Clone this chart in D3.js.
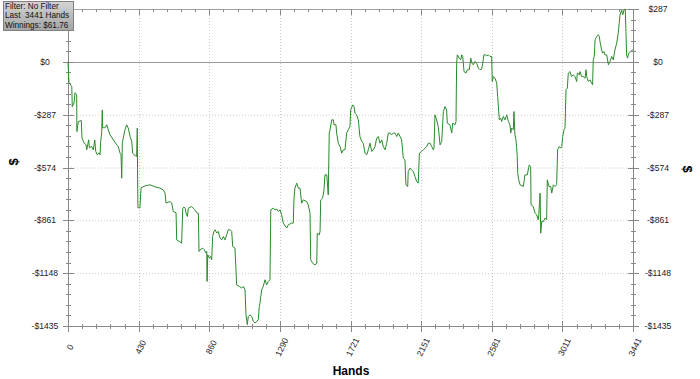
<!DOCTYPE html>
<html>
<head>
<meta charset="utf-8">
<script src="https://cdn.jsdelivr.net/npm/d3@7"></script>
<style>
  body { margin: 0; background: #fff; }
  text { font-family: "Liberation Sans", Arial, sans-serif; }
</style>
</head>
<body>
<div id="chart"></div>
<script>
// running winnings (hand number -> $)
const hands = [
  0,6,23,26,37,43,53,54,63,81,
  85,97,110,114,126,130,144,154,163,169,
  178,189,195,199,205,209,211,225,236,245,
  256,276,297,306,317,323,327,331,337,347,
  357,367,378,388,394,402,418,422,424,426,
  438,445,469,499,530,560,580,591,597,621,
  632,641,658,662,678,692,699,706,714,719,
  727,733,753,773,787,794,798,804,820,830,
  840,845,847,851,861,869,875,881,889,895,
  906,915,926,936,946,956,967,976,987,997,
  1003,1017,1027,1043,1058,1068,1078,1084,1092,1098,
  1108,1119,1129,1139,1149,1159,1165,1169,1174,1180,
  1189,1200,1210,1220,1230,1235,1250,1261,1271,1281,
  1291,1301,1311,1332,1342,1362,1372,1376,1382,1393,
  1403,1413,1423,1433,1454,1463,1474,1478,1490,1504,
  1515,1518,1530,1535,1539,1551,1559,1565,1576,1585,
  1591,1596,1606,1616,1620,1632,1636,1646,1657,1667,
  1677,1687,1697,1707,1717,1722,1734,1742,1748,1758,
  1768,1778,1789,1798,1809,1819,1829,1839,1850,1859,
  1870,1880,1890,1900,1911,1920,1931,1941,1951,1961,
  1971,1981,1992,2002,2012,2022,2032,2042,2052,2058,
  2069,2072,2083,2093,2103,2113,2124,2133,2140,2154,
  2164,2185,2194,2205,2215,2225,2229,2235,2245,2255,
  2266,2276,2286,2296,2306,2310,2326,2337,2343,2357,
  2363,2367,2371,2383,2392,2398,2404,2412,2424,2432,
  2444,2453,2460,2468,2479,2489,2499,2509,2519,2526,
  2533,2541,2550,2560,2570,2580,2584,2590,2601,2611,
  2617,2621,2627,2635,2641,2651,2661,2672,2682,2692,
  2696,2702,2712,2716,2722,2728,2732,2736,2739,2745,
  2753,2773,2783,2797,2809,2818,2820,2834,2844,2854,
  2864,2868,2875,2879,2885,2895,2905,2915,2919,2929,
  2940,2946,2956,2966,2976,2982,2992,3001,3007,3013,
  3021,3027,3033,3041,3047,3057,3067,3077,3088,3098,
  3102,3114,3118,3128,3138,3149,3155,3159,3169,3179,
  3189,3195,3199,3205,3210,3220,3230,3236,3240,3250,
  3256,3264,3270,3281,3291,3301,3311,3321,3331,3342,
  3351,3357,3362,3372,3378,3382,3386,3394,3398,3402,
  3408,3412,3418,3427,3439,3441
];
const winnings = [
  0,-112,-134,-243,-223,-168,-179,-379,-324,-319,
  -413,-440,-451,-478,-424,-467,-460,-478,-424,-487,
  -505,-494,-505,-433,-386,-261,-358,-358,-342,-369,
  -396,-424,-451,-460,-496,-505,-632,-440,-413,-369,
  -342,-360,-406,-433,-496,-505,-514,-360,-641,-793,
  -793,-684,-674,-668,-679,-686,-695,-713,-767,-759,
  -767,-813,-820,-967,-976,-985,-795,-789,-795,-822,
  -840,-795,-786,-804,-822,-822,-1030,-1021,-1012,-1021,
  -1039,-1030,-1193,-1048,-1066,-1057,-1075,-949,-921,-912,
  -930,-921,-957,-967,-949,-967,-939,-912,-912,-921,
  -1003,-1012,-1211,-1220,-1229,-1220,-1238,-1374,-1428,-1383,
  -1374,-1383,-1410,-1419,-1410,-1401,-1329,-1311,-1275,-1238,
  -1220,-1184,-1211,-1193,-1184,-804,-795,-804,-800,-813,
  -804,-831,-876,-903,-885,-876,-876,-750,-686,-659,
  -686,-686,-768,-750,-759,-777,-822,-1075,-1094,-1103,
  -1094,-931,-940,-922,-750,-740,-695,-614,-614,-723,
  -387,-369,-315,-315,-342,-342,-387,-442,-460,-496,
  -478,-478,-387,-369,-351,-261,-234,-243,-279,-288,
  -315,-406,-433,-442,-496,-505,-478,-442,-487,-478,
  -460,-414,-406,-442,-424,-460,-478,-442,-387,-387,
  -397,-387,-387,-406,-387,-406,-424,-523,-532,-668,
  -677,-596,-577,-587,-596,-623,-650,-659,-496,-487,
  -478,-460,-442,-442,-460,-478,-469,-288,-315,-351,
  -451,-433,-270,-243,-261,-333,-342,-387,-333,-342,
  -324,-7,38,20,11,38,29,-53,-61,-43,
  -43,20,-7,-16,2,-7,-34,-43,-40,-7,
  38,38,33,38,29,29,-107,-80,-89,-116,
  -189,-243,-315,-306,-324,-297,-315,-288,-324,-342,
  -387,-360,-369,-270,-397,-424,-460,-514,-605,-641,
  -668,-677,-614,-614,-560,-569,-777,-786,-822,-831,
  -858,-822,-713,-931,-868,-868,-849,-858,-641,-677,
  -677,-713,-668,-677,-668,-478,-460,-469,-460,-406,
  -369,-360,-152,-143,-61,-53,-80,-71,-80,-107,
  -61,-71,-53,-80,-80,-89,-43,-80,-107,-98,
  -116,-125,11,29,120,137,147,137,110,65,
  47,56,38,38,-16,2,29,11,65,102,
  156,210,255,282,255,265,282,286,165,38,
  20,38,51,56,65,61.76
];

const xTicks = [0, 430, 860, 1290, 1721, 2151, 2581, 3011, 3441];
const yTicks = [287, 0, -287, -574, -861, -1148, -1435];
const legendLines = ['Filter: No Filter', 'Last  3441 Hands', 'Winnings: $61.76'];

class WinningsGraph {
    constructor(){
        this.margin = { top: 9, right: 67, bottom: 53, left: 68 };
        this.width = 700 - this.margin.left - this.margin.right;
        this.height = 379 - this.margin.top - this.margin.bottom;
    }

    fmt(v){
        return (v < 0 ? '-$' : '$') + Math.abs(v);
    }

    drawPlot(){
        let m = this.margin;
        let svg = d3.select('#chart').append('svg')
            .attr('width', 700).attr('height', 379);

        let x = d3.scaleLinear().domain([0, 3441]).range([m.left, m.left + this.width]);
        let y = d3.scaleLinear().domain([-1435, 287]).range([m.top + this.height, m.top]);
        let x0 = x.range()[0], x1 = x.range()[1];
        let yTop = y.range()[1], yBot = y.range()[0];

        // dotted grid
        svg.append('g').selectAll('line')
            .data(yTicks.filter(d => d != 0 && d != 287 && d != -1435))
            .join('line')
            .attr('x1', x0).attr('x2', x1)
            .attr('y1', d => y(d) + 0.5).attr('y2', d => y(d) + 0.5)
            .attr('stroke', '#c8c8c8').attr('stroke-dasharray', '1,2');
        svg.append('g').selectAll('line')
            .data(xTicks.slice(1, -1))
            .join('line')
            .attr('x1', d => Math.round(x(d)) + 0.5).attr('x2', d => Math.round(x(d)) + 0.5)
            .attr('y1', yTop).attr('y2', yBot)
            .attr('stroke', '#c8c8c8').attr('stroke-dasharray', '1,2');

        // zero line + frame top
        svg.append('line')
            .attr('x1', x0).attr('x2', x1)
            .attr('y1', Math.round(y(0)) + 0.5).attr('y2', Math.round(y(0)) + 0.5)
            .attr('stroke', '#9a9a9a');
        svg.append('line')
            .attr('x1', x0).attr('x2', x1)
            .attr('y1', yTop + 0.5).attr('y2', yTop + 0.5)
            .attr('stroke', '#a0a0a0');

        // minor ticks
        let yMinor = d3.range(0, 31).map(i => -1435 + i * 57.4);
        let xMinor = d3.range(0, 41).map(i => i * 3441 / 40);

        let axisCol = '#888';
        [x0, x1].forEach(ax => {
            svg.append('line').attr('x1', ax + 0.5).attr('x2', ax + 0.5)
                .attr('y1', yTop).attr('y2', yBot + 4).attr('stroke', axisCol);
            svg.append('g').selectAll('line').data(yMinor).join('line')
                .attr('x1', ax - 2).attr('x2', ax + 3)
                .attr('y1', d => Math.round(y(d)) + 0.5).attr('y2', d => Math.round(y(d)) + 0.5)
                .attr('stroke', axisCol);
            svg.append('g').selectAll('line').data(yTicks).join('line')
                .attr('x1', ax - 5).attr('x2', ax + 6)
                .attr('y1', d => Math.round(y(d)) + 0.5).attr('y2', d => Math.round(y(d)) + 0.5)
                .attr('stroke', axisCol);
        });

        // bottom axis
        svg.append('line').attr('x1', x0 - 5).attr('x2', x1 + 5)
            .attr('y1', yBot + 0.5).attr('y2', yBot + 0.5).attr('stroke', axisCol);
        svg.append('g').selectAll('line').data(xMinor).join('line')
            .attr('x1', d => Math.round(x(d)) + 0.5).attr('x2', d => Math.round(x(d)) + 0.5)
            .attr('y1', yBot - 2).attr('y2', yBot + 3).attr('stroke', axisCol);
        svg.append('g').selectAll('line').data(xTicks).join('line')
            .attr('x1', d => Math.round(x(d)) + 0.5).attr('x2', d => Math.round(x(d)) + 0.5)
            .attr('y1', yBot - 5).attr('y2', yBot + 6).attr('stroke', axisCol);

        // top axis ticks
        svg.append('g').selectAll('line').data(xMinor).join('line')
            .attr('x1', d => Math.round(x(d)) + 0.5).attr('x2', d => Math.round(x(d)) + 0.5)
            .attr('y1', yTop).attr('y2', yTop + 3).attr('stroke', axisCol);
        svg.append('g').selectAll('line').data(xTicks).join('line')
            .attr('x1', d => Math.round(x(d)) + 0.5).attr('x2', d => Math.round(x(d)) + 0.5)
            .attr('y1', yTop).attr('y2', yTop + 6).attr('stroke', axisCol);

        // winnings line
        let pts = hands.map((h, i) => [h, winnings[i]]);
        let line = d3.line().x(d => x(d[0])).y(d => y(d[1]));
        svg.append('path').datum(pts)
            .attr('d', line)
            .attr('fill', 'none')
            .attr('stroke', '#2a8a2a')
            .attr('stroke-width', 1);

        // y labels both sides
        [x0 - 23, x1 + 25].forEach(lx => {
            svg.append('g').selectAll('text').data(yTicks).join('text')
                .attr('x', lx).attr('y', d => y(d) + 3)
                .attr('text-anchor', 'middle')
                .attr('font-size', '8.6px')
                .attr('fill', '#222')
                .text(d => this.fmt(d));
        });

        // x labels, rotated
        svg.append('g').selectAll('text').data(xTicks).join('text')
            .attr('transform', d => 'translate(' + (x(d) + 2) + ',' + 347 + ') rotate(-64)')
            .attr('text-anchor', 'middle')
            .attr('dy', '0.35em')
            .attr('font-size', '8.6px')
            .attr('fill', '#222')
            .text(d => d);

        svg.append('text')
            .attr('x', 351).attr('y', 375)
            .attr('text-anchor', 'middle')
            .attr('font-size', '12px').attr('font-weight', 'bold')
            .text('Hands');

        svg.append('text')
            .attr('transform', 'translate(18,162) rotate(-90)')
            .attr('text-anchor', 'middle')
            .attr('font-size', '13px').attr('font-weight', 'bold')
            .text('$');
        svg.append('text')
            .attr('transform', 'translate(683,169) rotate(90)')
            .attr('text-anchor', 'middle')
            .attr('font-size', '13px').attr('font-weight', 'bold')
            .text('$');

        // info box
        let defs = svg.append('defs');
        let grad = defs.append('linearGradient').attr('id', 'boxGrad')
            .attr('x1', 0).attr('y1', 0).attr('x2', 0).attr('y2', 1);
        grad.append('stop').attr('offset', '0%').attr('stop-color', '#d4d4d4');
        grad.append('stop').attr('offset', '100%').attr('stop-color', '#a4a4a4');
        svg.append('rect')
            .attr('x', 3.5).attr('y', 1.5).attr('width', 70).attr('height', 29)
            .attr('fill', 'url(#boxGrad)').attr('stroke', '#808080');
        svg.append('g').selectAll('text').data(legendLines).join('text')
            .attr('x', 5).attr('y', (d, i) => 8.6 + i * 9.8)
            .attr('font-size', '8.2px')
            .attr('fill', '#111')
            .style('white-space', 'pre')
            .text(d => d);
    }
}

let graph = new WinningsGraph();
graph.drawPlot();
</script>
</body>
</html>
